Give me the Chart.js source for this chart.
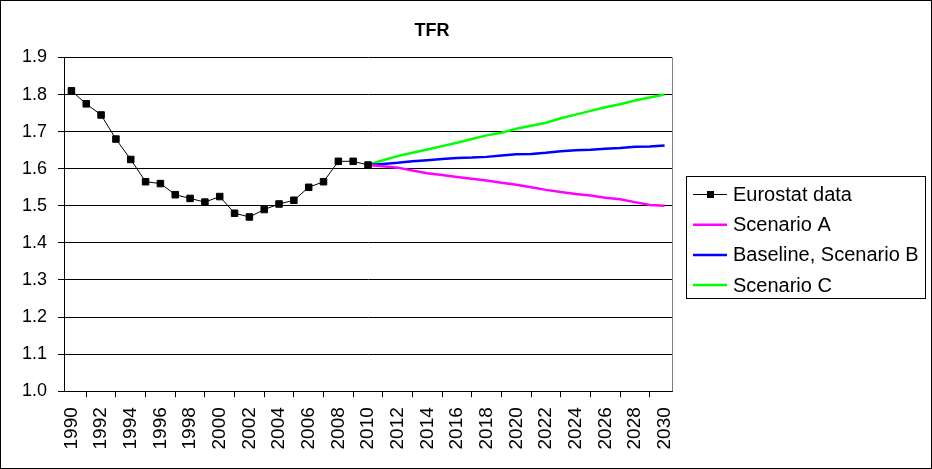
<!DOCTYPE html>
<html>
<head>
<meta charset="utf-8">
<title>TFR</title>
<script src="https://cdn.jsdelivr.net/npm/chart.js@4/dist/chart.umd.min.js"></script>
<style>
  html, body { margin: 0; padding: 0; background: #fff; }
  #wrap { width: 932px; height: 469px; }
</style>
</head>
<body>
<div id="wrap"><canvas id="tfr" width="932" height="469"></canvas></div>
<script>
// Years on the horizontal axis
const years = [
  '1990','1991','1992','1993','1994','1995','1996','1997','1998','1999',
  '2000','2001','2002','2003','2004','2005','2006','2007','2008','2009',
  '2010','2011','2012','2013','2014','2015','2016','2017','2018','2019',
  '2020','2021','2022','2023','2024','2025','2026','2027','2028','2029','2030'
];

// Observed total fertility rate, 1990-2010
const eurostatData = [
  1.81, 1.775, 1.745, 1.68, 1.625, 1.565, 1.56, 1.53, 1.52, 1.51,
  1.525, 1.48, 1.47, 1.49, 1.505, 1.515, 1.55, 1.565, 1.62, 1.62, 1.61
];

// Projections, 2010-2030
const scenarioA = [
  1.61, 1.607, 1.603, 1.595, 1.588, 1.583, 1.578, 1.573, 1.568, 1.562,
  1.557, 1.55, 1.543, 1.537, 1.532, 1.528, 1.522, 1.518, 1.51, 1.502, 1.50
];
const scenarioB = [
  1.61, 1.613, 1.616, 1.62, 1.623, 1.626, 1.629, 1.63, 1.632, 1.636,
  1.639, 1.64, 1.643, 1.647, 1.65, 1.651, 1.654, 1.656, 1.659, 1.66, 1.663
];
const scenarioC = [
  1.61, 1.623, 1.634, 1.643, 1.652, 1.661, 1.67, 1.68, 1.69, 1.697,
  1.708, 1.716, 1.724, 1.736, 1.746, 1.756, 1.766, 1.774, 1.784, 1.792, 1.80
];

// Y axis range and step
const yMin = 1.0, yMax = 1.9, yStep = 0.1;

const FONT = '"Liberation Sans", Arial, Helvetica, sans-serif';

// Place a series onto the full year list (missing years stay empty)
function placeOnYears(startYear, values) {
  const out = years.map(() => null);
  const start = years.indexOf(startYear);
  values.forEach((v, i) => { out[start + i] = v; });
  return out;
}

// Frame, title, plot-area right edge and boxed legend
const decorations = {
  id: 'decorations',
  afterDraw(chart) {
    const ctx = chart.ctx;
    const area = chart.chartArea;
    ctx.save();

    // right edge of the plot area
    ctx.strokeStyle = '#808080';
    ctx.lineWidth = 1;
    ctx.beginPath();
    ctx.moveTo(Math.round(area.right) + 0.5, area.top);
    ctx.lineTo(Math.round(area.right) + 0.5, area.bottom);
    ctx.stroke();

    // outer frame
    ctx.strokeStyle = '#000';
    ctx.strokeRect(0.5, 0.5, chart.width - 1, chart.height - 1);

    // title
    ctx.fillStyle = '#000';
    ctx.font = 'bold 18px ' + FONT;
    ctx.textAlign = 'center';
    ctx.textBaseline = 'middle';
    ctx.fillText('TFR', 432, 31);

    // legend box
    const lx = 686, ly = 176, lw = 239, lh = 122;
    ctx.fillStyle = '#fff';
    ctx.fillRect(lx, ly, lw, lh);
    ctx.strokeStyle = '#000';
    ctx.lineWidth = 1;
    ctx.strokeRect(lx + 0.5, ly + 0.5, lw, lh);

    ctx.font = '20px ' + FONT;
    ctx.textAlign = 'left';
    chart.data.datasets.forEach((ds, i) => {
      const y = 194.5 + i * 30.2;
      ctx.strokeStyle = ds.borderColor;
      ctx.lineWidth = ds.borderWidth;
      ctx.beginPath();
      ctx.moveTo(693, y);
      ctx.lineTo(727, y);
      ctx.stroke();
      if (ds.pointRadius > 0) {
        ctx.fillStyle = ds.pointBackgroundColor;
        ctx.fillRect(707, y - 3.5, 7, 7);
      }
      ctx.fillStyle = '#000';
      ctx.fillText(ds.label, 733, y + 1);
    });

    ctx.restore();
  }
};

new Chart(document.getElementById('tfr'), {
  type: 'line',
  data: {
    labels: years,
    datasets: [
      {
        label: 'Eurostat data',
        data: placeOnYears('1990', eurostatData),
        borderColor: '#000',
        borderWidth: 1,
        pointStyle: 'rect',
        pointRadius: 4.6,
        pointBackgroundColor: '#000',
        pointBorderColor: '#000',
        pointBorderWidth: 1,
        tension: 0,
        spanGaps: false
      },
      {
        label: 'Scenario A',
        data: placeOnYears('2010', scenarioA),
        borderColor: '#FF00FF',
        borderWidth: 2.5,
        pointRadius: 0,
        tension: 0
      },
      {
        label: 'Baseline, Scenario B',
        data: placeOnYears('2010', scenarioB),
        borderColor: '#0000FF',
        borderWidth: 2.5,
        pointRadius: 0,
        tension: 0
      },
      {
        label: 'Scenario C',
        data: placeOnYears('2010', scenarioC),
        borderColor: '#00FF00',
        borderWidth: 2.5,
        pointRadius: 0,
        tension: 0
      }
    ]
  },
  options: {
    responsive: false,
    animation: false,
    devicePixelRatio: 1,
    layout: { padding: { left: 11, right: 260, top: 57.5, bottom: 9.5 } },
    plugins: {
      legend: { display: false },
      title: { display: false },
      tooltip: { enabled: false }
    },
    scales: {
      x: {
        type: 'category',
        offset: true,
        grid: {
          offset: true,
          drawOnChartArea: false,
          drawTicks: true,
          tickLength: 6,
          color: '#000'
        },
        border: { color: '#000', width: 1 },
        ticks: {
          autoSkip: false,
          minRotation: 90,
          maxRotation: 90,
          padding: 10,
          color: '#000',
          font: { family: FONT, size: 19 },
          callback: function (value, index) {
            return index % 2 === 0 ? this.getLabelForValue(value) : null;
          }
        }
      },
      y: {
        min: yMin,
        max: yMax,
        grid: {
          color: '#000',
          lineWidth: 1,
          drawTicks: true,
          tickLength: 6
        },
        border: { color: '#000', width: 1 },
        ticks: {
          stepSize: yStep,
          padding: 11,
          color: '#000',
          font: { family: FONT, size: 18 },
          callback: (v) => Number(v).toFixed(1)
        }
      }
    }
  },
  plugins: [decorations]
});
</script>
</body>
</html>
